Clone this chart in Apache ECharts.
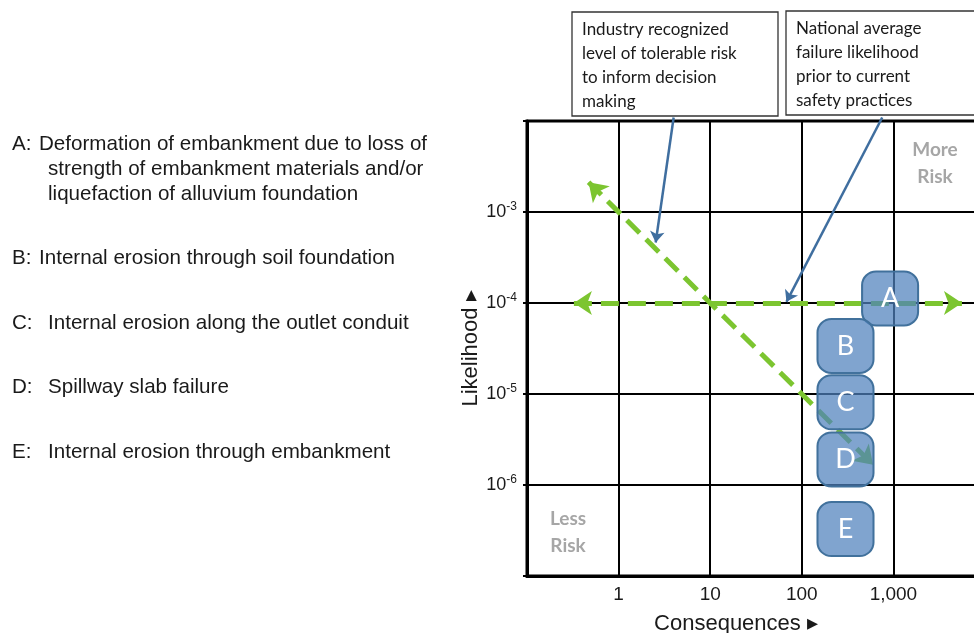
<!DOCTYPE html>
<html>
<head>
<meta charset="utf-8">
<script src="https://cdn.jsdelivr.net/npm/echarts@6/dist/echarts.min.js"></script>
<style>
  html, body { margin: 0; padding: 0; background: #ffffff; }
  #main { width: 974px; height: 633px; }
</style>
</head>
<body>
<div id="main"></div>
<script>
// Failure modes: code, consequences (centre), likelihood (centre)
const modeCodes = ['A', 'B', 'C', 'D', 'E'];
const modeConsequence = [920, 300, 300, 300, 300];
const modeLikelihood = [1.12e-4, 3.37e-5, 8.1e-6, 1.91e-6, 3.28e-7];

const modeText = [
  ['Deformation of embankment due to loss of', 'strength of embankment materials and/or', 'liquefaction of alluvium foundation'],
  ['Internal erosion through soil foundation'],
  ['Internal erosion along the outlet conduit'],
  ['Spillway slab failure'],
  ['Internal erosion through embankment']
];

// Axis tick labels
const consequenceTicks = [1, 10, 100, 1000];
const likelihoodExponents = [-3, -4, -5, -6];

// Reference lines: national average likelihood and tolerable-risk line (L = 1e-3 / C)
const nationalAverage = [[0.325, 1e-4], [5600, 1e-4]];
const tolerableRisk = [[0.47, 1e-3 / 0.47], [600, 1e-3 / 600]];

// Callout notes and the points they refer to
const calloutTolerableText = 'Industry recognized\nlevel of tolerable risk\nto inform decision\nmaking';
const calloutNationalText = 'National average\nfailure likelihood\nprior to current\nsafety practices';
const calloutTolerableArrow = [[3.99, 1.093e-2], [2.54, 4.62e-4]];
const calloutNationalArrow = [[755, 1.093e-2], [68, 1.03e-4]];

const GREEN = '#7CC530';
const BLUE_LINE = '#3F6E9F';
const SANS = '"Liberation Sans", Arial, sans-serif';
const HUMANIST = 'Lato, "Open Sans", sans-serif';

const chart = echarts.init(document.getElementById('main'));

const descGraphics = [];
const descRows = [
  { prefix: 'A:', ys: [144, 169, 194], xs: [39, 48, 48] },
  { prefix: 'B:', ys: [258], xs: [39] },
  { prefix: 'C:', ys: [323], xs: [48] },
  { prefix: 'D:', ys: [387], xs: [48] },
  { prefix: 'E:', ys: [452], xs: [48] }
];
descRows.forEach((row, i) => {
  descGraphics.push({
    type: 'text', x: 12, y: row.ys[0],
    style: { text: row.prefix, font: '20.6px ' + SANS, fill: '#1a1a1a', verticalAlign: 'middle' }
  });
  modeText[i].forEach((line, j) => {
    descGraphics.push({
      type: 'text', x: row.xs[j], y: row.ys[j],
      style: { text: line, font: '20.6px ' + SANS, fill: '#1a1a1a', verticalAlign: 'middle' }
    });
  });
});

function calloutBox(x, y, w, h, text) {
  return {
    type: 'group', x: x, y: y,
    children: [
      { type: 'rect', shape: { x: 0, y: 0, width: w, height: h },
        style: { fill: '#ffffff', stroke: '#333333', lineWidth: 1.3 } },
      { type: 'text', x: 10, y: 6,
        style: { text: text, font: '17px ' + HUMANIST, fill: '#1a1a1a', lineHeight: 24 } }
    ]
  };
}

const option = {
  animation: false,
  backgroundColor: '#ffffff',
  grid: {
    left: 527, top: 121, width: 458, height: 455,
    outerBoundsMode: 'none',
    containLabel: false,
    show: true, borderColor: '#000000', borderWidth: 3
  },
  xAxis: {
    type: 'log', logBase: 10, min: 0.1, max: 10000,
    name: 'Consequences ▸',
    nameLocation: 'middle', nameGap: 37,
    nameTextStyle: { fontFamily: SANS, fontSize: 22, color: '#1a1a1a', padding: [0, 40, 0, 0] },
    axisLine: { show: true, lineStyle: { color: '#000', width: 3 } },
    axisTick: { show: false },
    splitLine: { show: true, lineStyle: { color: '#000', width: 2 } },
    axisLabel: {
      margin: 9, fontFamily: SANS, fontSize: 19, color: '#1a1a1a',
      formatter: v => {
        const r = Math.round(v);
        return consequenceTicks.includes(r) && Math.abs(v - r) < 1e-6 * Math.max(1, r)
          ? r.toLocaleString('en-US') : '';
      }
    }
  },
  yAxis: {
    type: 'log', logBase: 10, min: 1e-7, max: 1e-2,
    name: 'Likelihood ▸',
    nameLocation: 'middle', nameGap: 41, nameRotate: 90,
    nameTextStyle: { fontFamily: SANS, fontSize: 22, color: '#1a1a1a' },
    axisLine: { show: true, lineStyle: { color: '#000', width: 3 } },
    axisTick: { show: true, length: 4, lineStyle: { color: '#000', width: 2 } },
    splitLine: { show: true, lineStyle: { color: '#000', width: 2 } },
    axisLabel: {
      margin: 10,
      formatter: v => {
        const e = Math.round(Math.log10(v));
        return likelihoodExponents.includes(e) ? '{b|10}{s|' + e + '}' : '';
      },
      rich: {
        b: { fontFamily: SANS, fontSize: 18, color: '#1a1a1a', lineHeight: 22 },
        s: { fontFamily: SANS, fontSize: 12, color: '#1a1a1a', lineHeight: 14, verticalAlign: 'top' }
      }
    }
  },
  series: [
    {
      type: 'lines', coordinateSystem: 'cartesian2d', clip: false, z: 3,
      symbol: ['arrow', 'arrow'], symbolSize: 18,
      lineStyle: { color: GREEN, width: 5, type: [18, 9], opacity: 1, curveness: 0 },
      data: [{ coords: nationalAverage }]
    },
    {
      type: 'lines', coordinateSystem: 'cartesian2d', clip: false, z: 3,
      symbol: ['arrow', 'arrow'], symbolSize: 18,
      lineStyle: { color: GREEN, width: 5, type: [18, 9], opacity: 1, curveness: 0 },
      data: [{ coords: tolerableRisk }]
    },
    {
      type: 'scatter', z: 5,
      symbol: 'roundRect', symbolSize: [56, 54],
      itemStyle: { color: 'rgba(79,129,189,0.72)', borderColor: '#41719C', borderWidth: 2, opacity: 1 },
      label: {
        show: true, position: 'inside', color: '#ffffff',
        fontFamily: HUMANIST, fontSize: 27,
        formatter: p => p.value[2]
      },
      data: modeCodes.map((c, i) => [modeConsequence[i], modeLikelihood[i], c])
    },
    {
      type: 'lines', coordinateSystem: 'cartesian2d', clip: false, z: 6,
      symbol: ['none', 'arrow'], symbolSize: 11,
      lineStyle: { color: BLUE_LINE, width: 2.5, opacity: 1, curveness: 0 },
      data: [{ coords: calloutTolerableArrow }, { coords: calloutNationalArrow }]
    }
  ],
  graphic: [
    ...descGraphics,
    calloutBox(572, 12, 206, 104, calloutTolerableText),
    calloutBox(786, 11, 190, 104, calloutNationalText),
    { type: 'text', x: 935, y: 163, z: 10,
      style: { text: 'More\nRisk', font: 'bold 19px ' + HUMANIST, fill: '#A6A6A6', align: 'center', verticalAlign: 'middle', lineHeight: 27 } },
    { type: 'text', x: 568, y: 532, z: 10,
      style: { text: 'Less\nRisk', font: 'bold 19px ' + HUMANIST, fill: '#A6A6A6', align: 'center', verticalAlign: 'middle', lineHeight: 27 } }
  ]
};

chart.setOption(option);
</script>
</body>
</html>
